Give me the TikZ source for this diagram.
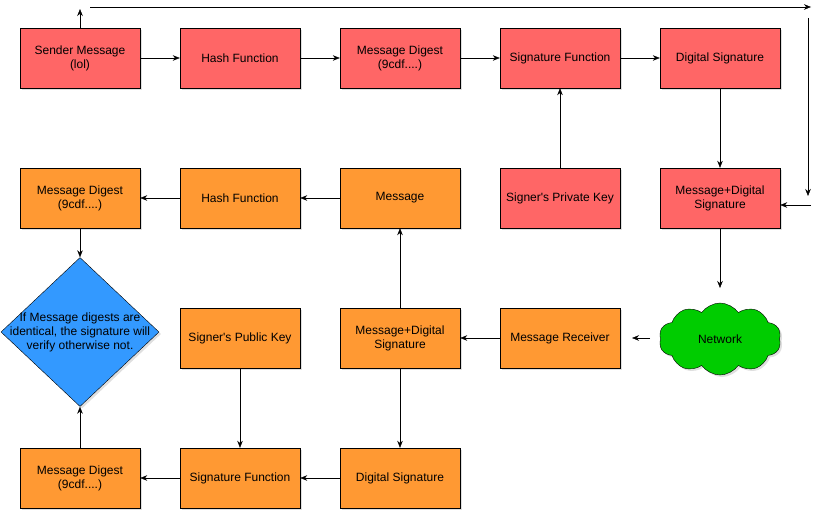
\documentclass[tikz,border=0pt]{standalone}
\usepackage{fontspec}
\setmainfont{Liberation Sans}[Ligatures=TeXOff]
\usepackage{xcolor}
\usetikzlibrary{arrows.meta,shapes.geometric,shapes.symbols,shadows}

\definecolor{sendred}{HTML}{FF6666}
\definecolor{recvorange}{HTML}{FF9933}
\definecolor{checkblue}{HTML}{3399FF}
\definecolor{netgreen}{HTML}{00CC00}

\begin{document}
\begin{tikzpicture}[x=1pt, y=-1pt, >={Stealth[length=7pt,width=5.5pt]},
    box/.style={draw, minimum width=120pt, minimum height=60pt, align=center, inner sep=2pt,
        font=\fontsize{12}{14}\selectfont,
        drop shadow={shadow xshift=2pt, shadow yshift=-2pt, opacity=0.25}},
    sendbox/.style={box, fill=sendred},
    recvbox/.style={box, fill=recvorange}]
    \useasboundingbox (0,0) rectangle (830,519);

    % Sender side
    \node[sendbox] (smsg) at (80,58) {Sender Message\\(lol)};
    \node[sendbox] (shash) at (240,58) {Hash Function};
    \node[sendbox] (sdig) at (400,58) {Message Digest\\(9cdf....)};
    \node[sendbox] (ssigf) at (560,58) {Signature Function};
    \node[sendbox] (ssig) at (720,58) {Digital Signature};
    \node[sendbox] (privkey) at (560,198) {Signer's Private Key};
    \node[sendbox] (smsgsig) at (720,198) {Message+Digital\\Signature};

    % Network
    \node[cloud, draw, fill=netgreen, cloud puffs=10, cloud puff arc=110, aspect=1.8,
        minimum width=122pt, minimum height=72pt, inner sep=0pt,
        font=\fontsize{12}{14}\selectfont,
        drop shadow={shadow xshift=2pt, shadow yshift=-2pt, opacity=0.25}] (net) at (720,339) {Network};

    % Receiver side
    \node[recvbox] (rrecv) at (560,338) {Message Receiver};
    \node[recvbox] (rmsgsig) at (400,338) {Message+Digital\\Signature};
    \node[recvbox] (rmsg) at (400,198) {Message};
    \node[recvbox] (rhash) at (240,198) {Hash Function};
    \node[recvbox] (rdig) at (80,198) {Message Digest\\(9cdf....)};
    \node[recvbox] (pubkey) at (240,338) {Signer's Public Key};
    \node[recvbox] (rsig) at (400,478) {Digital Signature};
    \node[recvbox] (rsigf) at (240,478) {Signature Function};
    \node[recvbox] (rdigb) at (80,478) {Message Digest\\(9cdf....)};

    % Verification check
    \node[diamond, draw, fill=checkblue, minimum width=158pt, minimum height=149pt, inner sep=0pt,
        drop shadow={shadow xshift=2pt, shadow yshift=-2pt, opacity=0.25},
        label={[align=center, font=\fontsize{12}{14}\selectfont]center:If Message digests are\\identical, the signature will\\verify otherwise not.}] (check) at (80,332) {};

    % Free ends
    \coordinate (uptip) at (80,9);
    \coordinate (topa) at (90,7);
    \coordinate (topb) at (811,7);
    \coordinate (sidea) at (808,18);
    \coordinate (sideb) at (808,196);
    \coordinate (backa) at (811,205);
    \coordinate (netdown) at (720,288);
    \coordinate (netleft) at (650,338);
    \coordinate (netleftb) at (632,338);

    % Sender arrows
    \draw[->] (smsg) -- (shash);
    \draw[->] (shash) -- (sdig);
    \draw[->] (sdig) -- (ssigf);
    \draw[->] (ssigf) -- (ssig);
    \draw[->] (privkey) -- (ssigf);
    \draw[->] (ssig) -- (smsgsig);
    \draw[->] (smsg.north) -- (uptip);
    \draw[->] (topa) -- (topb);
    \draw[->] (sidea) -- (sideb);
    \draw[->] (backa) -- (smsgsig.east |- backa);
    \draw[->] (smsgsig.south) -- (netdown);
    \draw[->] (netleft) -- (netleftb);

    % Receiver arrows
    \draw[->] (rrecv) -- (rmsgsig);
    \draw[->] (rmsgsig) -- (rmsg);
    \draw[->] (rmsgsig) -- (rsig);
    \draw[->] (rmsg) -- (rhash);
    \draw[->] (rhash) -- (rdig);
    \draw[->] (rdig.south) -- (check.north);
    \draw[->] (pubkey) -- (rsigf);
    \draw[->] (rsig) -- (rsigf);
    \draw[->] (rsigf) -- (rdigb);
    \draw[->] (rdigb.north) -- (check.south);
\end{tikzpicture}
\end{document}
